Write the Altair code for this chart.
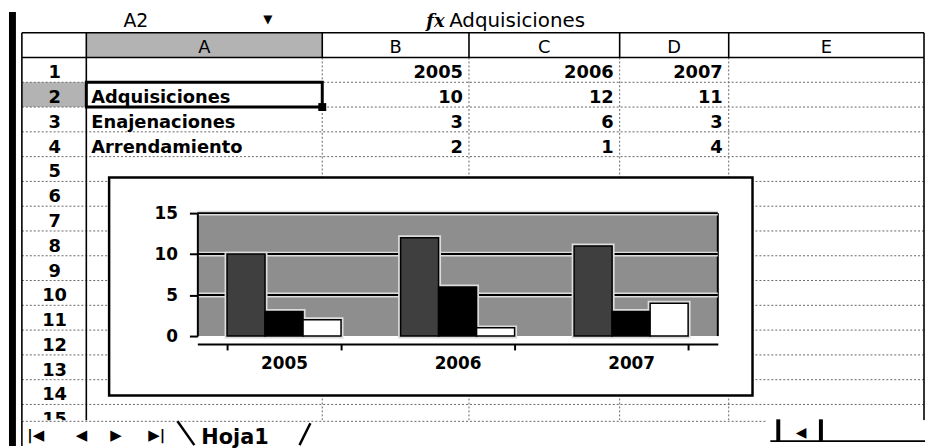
import altair as alt
import pandas as pd

# ---------------- data ----------------
years = ["2005", "2006", "2007"]
series = ["Adquisiciones", "Enajenaciones", "Arrendamiento"]
adquisiciones = [10, 12, 11]
enajenaciones = [3, 6, 3]
arrendamiento = [2, 1, 4]
column_letters = ["A", "B", "C", "D", "E"]
row_numbers = list(range(1, 16))
name_box = "A2"
sheet_name = "Hoja1"
y_ticks = [0, 5, 10, 15]
grid_values = [5, 10, 15]

# ---------------- layout (pixel positions in the screenshot) ----------------
W, H = 933, 448
M = 8
COL_EDGES = [87, 325, 473, 625, 735, 932]
ROWHDR_L = 22
HDR_TOP, HDR_BOT = 31, 56
ROW_H = 25
TAB_TOP = 422
BOX = (110, 177, 759, 397)
PLOT = (199, 213, 724, 337)
FONT = "DejaVu Sans"

XS = alt.Scale(domain=[0, W], range=[-M, W - M], nice=False, zero=False)
YS = alt.Scale(domain=[0, H], range=[-M, H - M], nice=False, zero=False)

BAR_XS = alt.Scale(domain=years, range=[PLOT[0] - M, PLOT[2] - M],
                   paddingInner=0.343, paddingOuter=0.171)
BAR_YS = alt.Scale(domain=[0, 15], range=[PLOT[3] - M, PLOT[1] - M], nice=False, zero=True)
OFF_S = alt.Scale(domain=series, paddingInner=0, paddingOuter=0)


def segments(rows, color, width, dash=None):
    df = pd.DataFrame(rows, columns=["x", "y", "x2", "y2"])
    kw = dict(color=color, strokeWidth=width)
    if dash:
        kw["strokeDash"] = dash
    return alt.Chart(df).mark_rule(**kw).encode(
        x=alt.X("x:Q", scale=XS, axis=None), x2="x2:Q",
        y=alt.Y("y:Q", scale=YS, axis=None), y2="y2:Q")


def rects(rows, fill, stroke=None, sw=0):
    df = pd.DataFrame(rows, columns=["x", "y", "x2", "y2"])
    kw = dict(fill=fill)
    if stroke:
        kw["stroke"] = stroke
        kw["strokeWidth"] = sw
    return alt.Chart(df).mark_rect(**kw).encode(
        x=alt.X("x:Q", scale=XS, axis=None), x2="x2:Q",
        y=alt.Y("y:Q", scale=YS, axis=None), y2="y2:Q")


def texts(rows, size, weight="normal", align="left", font=FONT, style="normal"):
    df = pd.DataFrame(rows, columns=["x", "y", "t"])
    return alt.Chart(df).mark_text(
        align=align, baseline="alphabetic", font=font, fontSize=size,
        fontWeight=weight, fontStyle=style, color="black").encode(
        x=alt.X("x:Q", scale=XS, axis=None),
        y=alt.Y("y:Q", scale=YS, axis=None), text="t:N")


def row_top(i):
    return HDR_BOT + ROW_H * (i - 1)


def baseline(i):
    return row_top(i) + 21


layers = []

# header shading (selected column A and row 2)
layers.append(rects([(COL_EDGES[0], HDR_TOP, COL_EDGES[1], HDR_BOT),
                     (ROWHDR_L, row_top(2), COL_EDGES[0], row_top(3))], "#b3b3b3"))

# dotted cell grid
h_lines = [(ROWHDR_L, row_top(i), COL_EDGES[-1], row_top(i)) for i in range(2, 16)]
v_lines = [(x, HDR_BOT, x, TAB_TOP) for x in COL_EDGES[1:-1]]
layers.append(segments(h_lines + v_lines, "#666666", 1, [2, 2]))

# solid frame lines
solid = [(ROWHDR_L, HDR_TOP, COL_EDGES[-1], HDR_TOP),
         (ROWHDR_L, HDR_BOT, COL_EDGES[-1], HDR_BOT),
         (ROWHDR_L, HDR_TOP, ROWHDR_L, H),
         (COL_EDGES[0], HDR_TOP, COL_EDGES[0], TAB_TOP + 3),
         (COL_EDGES[-1], HDR_TOP, COL_EDGES[-1], TAB_TOP)]
solid += [(x, HDR_TOP, x, HDR_BOT) for x in COL_EDGES[1:-1]]
layers.append(segments(solid, "black", 1.6))

# left black bar of the window
layers.append(rects([(9, 10, 16, H)], "black"))

# column header letters
centers = [(COL_EDGES[k] + COL_EDGES[k + 1]) / 2 for k in range(5)]
layers.append(texts([(centers[k], 51, column_letters[k]) for k in range(5)], 18, align="center"))

# row numbers
layers.append(texts([(55, baseline(i), str(i)) for i in row_numbers], 18, "bold", "center"))

# cell contents
cell_rows = [(COL_EDGES[k + 2] - 6, baseline(1), years[k]) for k in range(3)]
values = [adquisiciones, enajenaciones, arrendamiento]
for s in range(3):
    for k in range(3):
        cell_rows.append((COL_EDGES[k + 2] - 6, baseline(s + 2), str(values[s][k])))
layers.append(texts(cell_rows, 18, "bold", "right"))
layers.append(texts([(COL_EDGES[0] + 5, baseline(s + 2), series[s]) for s in range(3)], 18, "bold", "left"))

# selected cell A2 and fill handle
layers.append(rects([(COL_EDGES[0], row_top(2), COL_EDGES[1], row_top(3))], "transparent", "black", 3))
layers.append(rects([(COL_EDGES[1] - 4, row_top(3) - 4, COL_EDGES[1] + 4, row_top(3) + 4)], "black"))

# formula bar
layers.append(texts([(137, 25, name_box)], 19, "normal", "center"))
layers.append(texts([(270, 21, "▼")], 12, "normal", "center"))
layers.append(texts([(430, 25, "fx")], 18, "bold", "left", font="DejaVu Serif", style="italic"))
layers.append(texts([(453, 25, series[0])], 20, "normal", "left"))

# embedded chart frame and plot area
layers.append(rects([BOX], "white", "black", 2.5))
layers.append(rects([PLOT], "#8e8e8e"))
layers.append(segments([(PLOT[2], PLOT[1], PLOT[2], PLOT[3])], "black", 2))

# gridlines (through the value scale)
gdf = pd.DataFrame({"v": grid_values})
for col, w in (("#dcdcdc", 5), ("black", 2)):
    layers.append(alt.Chart(gdf).mark_rule(color=col, strokeWidth=w).encode(
        y=alt.Y("v:Q", scale=BAR_YS, axis=None),
        x=alt.value(PLOT[0] - M), x2=alt.value(PLOT[2] - M)))

# bars
bar_df = pd.DataFrame({
    "year": years * 3,
    "series": [s for s in series for _ in years],
    "value": adquisiciones + enajenaciones + arrendamiento,
})

layers.append(alt.Chart(bar_df).mark_bar(fill="#dcdcdc", stroke="#dcdcdc", strokeWidth=5).encode(
    x=alt.X("year:N", scale=BAR_XS, axis=None),
    xOffset=alt.XOffset("series:N", scale=OFF_S, sort=series),
    y=alt.Y("value:Q", scale=BAR_YS, axis=None)))

layers.append(alt.Chart(bar_df).mark_bar(stroke="black", strokeWidth=1.5).encode(
    x=alt.X("year:N", scale=BAR_XS, axis=alt.Axis(
        orient="bottom", offset=-(H - M - (PLOT[3] - M) - M), title=None, labelAngle=0,
        tickBand="extent", tickSize=6, tickWidth=2, tickColor="black",
        domainColor="black", domainWidth=2, labelPadding=6,
        labelFont=FONT, labelFontSize=17, labelFontWeight="bold", labelColor="black",
        grid=False, zindex=1)),
    xOffset=alt.XOffset("series:N", scale=OFF_S, sort=series),
    y=alt.Y("value:Q", scale=BAR_YS, axis=alt.Axis(
        orient="left", offset=-(PLOT[0] - M), title=None, values=y_ticks,
        tickSize=8, tickWidth=2, tickColor="black", domainColor="black", domainWidth=2,
        labelPadding=12, labelFont=FONT, labelFontSize=17, labelFontWeight="bold",
        labelColor="black", grid=False, zindex=1)),
    color=alt.Color("series:N", scale=alt.Scale(domain=series, range=["#3f3f3f", "#000000", "#ffffff"]),
                    legend=None)))

# sheet tab bar
layers.append(rects([(17, TAB_TOP, W, H)], "white"))
layers.append(segments([(ROWHDR_L, TAB_TOP + 1, 773, TAB_TOP + 1)], "#666666", 1, [2, 2]))
layers.append(segments([(ROWHDR_L, TAB_TOP, ROWHDR_L, H)], "black", 1.6))
layers.append(texts([(36, 442, "|◀"), (82, 442, "◀"), (117, 442, "▶"), (158, 442, "▶|")], 15, "bold", "center"))
layers.append(segments([(179, 423, 196, 447), (313, 425, 302, 447)], "black", 2.5))
layers.append(texts([(203, 446, sheet_name)], 21, "bold", "left"))
layers.append(rects([(783, 421, 787, 443), (826, 421, 830, 443)], "black"))
layers.append(texts([(808, 439, "◀")], 14, "bold", "center"))
layers.append(segments([(777, 443, W, 443)], "black", 1.6))

chart = alt.layer(*layers).resolve_scale(
    x="independent", y="independent", xOffset="independent"
).properties(
    width=W - M, height=H - M, padding=0, autosize=alt.AutoSizeParams(type="none"),
    background="white"
).configure_view(stroke=None)

chart.save("out.html", embed_options={"renderer": "svg", "actions": False})
